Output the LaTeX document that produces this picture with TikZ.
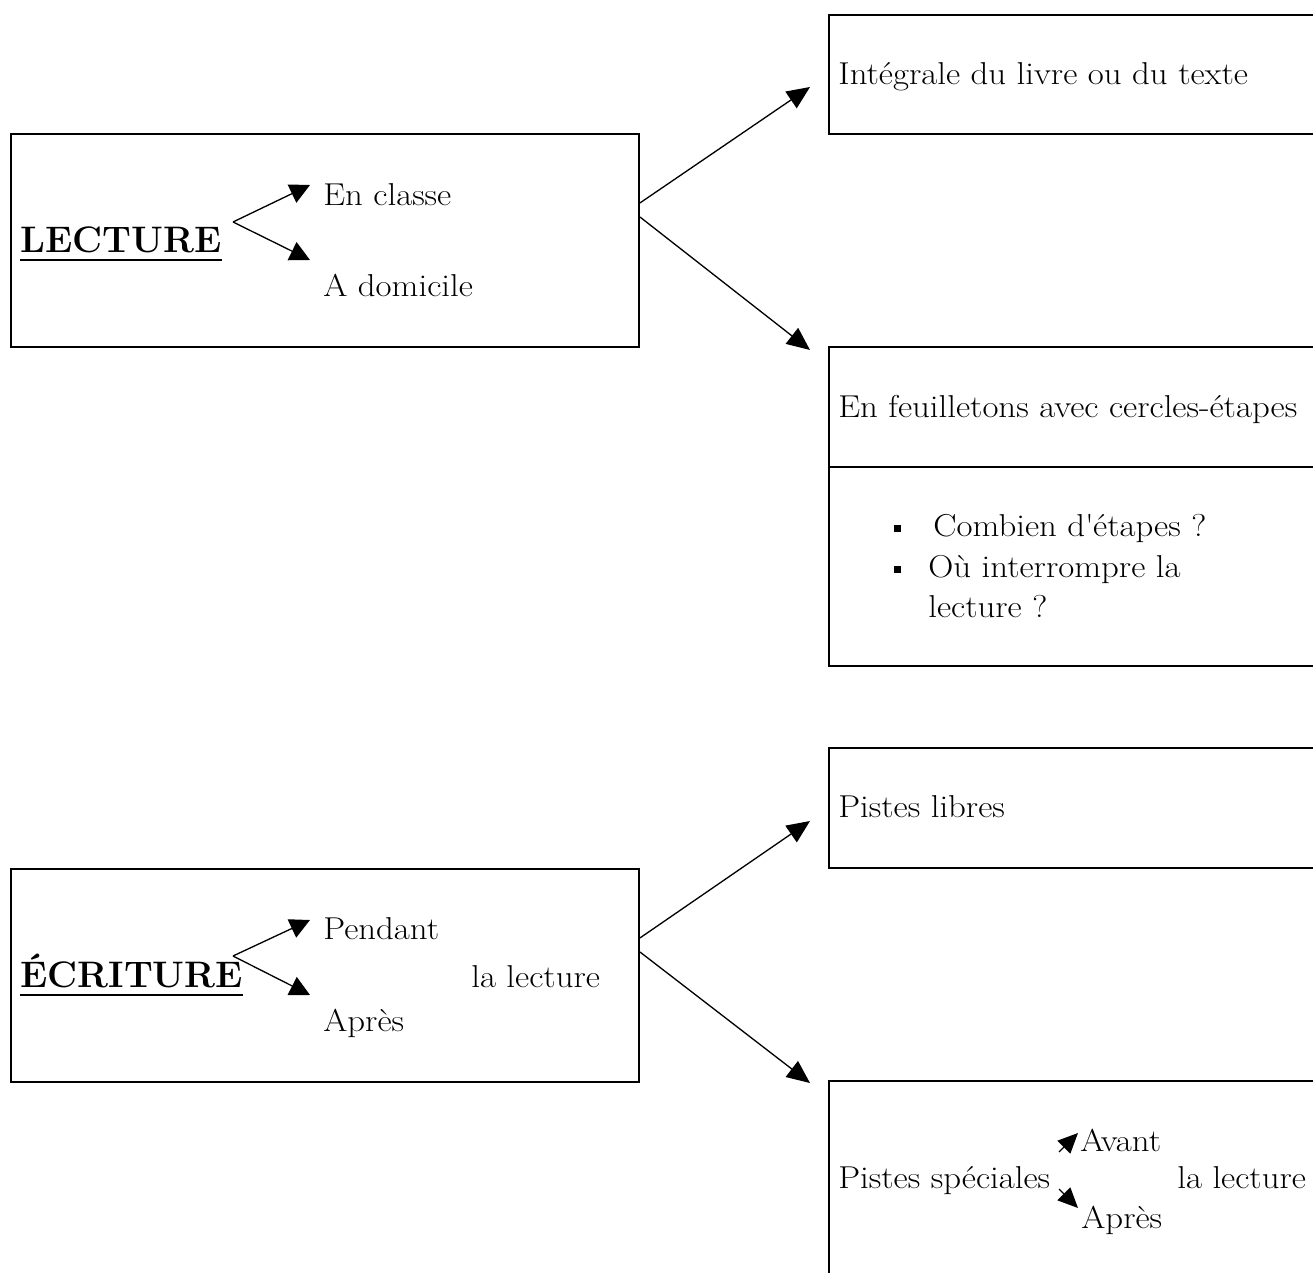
\documentclass[tikz,border=0pt]{standalone}
\usepackage{fontspec}
\newfontfamily\bodyfont{Latin Modern Roman}[FakeStretch=1.1]
\usepackage{tikz}
\usetikzlibrary{
    positioning,    % For relative node placement
    arrows.meta     % For Triangle arrow tips
}

\begin{document}
\begin{tikzpicture}[
    % Styles
    main_box/.style={ % Left boxes (LECTURE, ECRITURE)
        rectangle,
        draw,
        line width=1.1pt,
        anchor=north west,
        minimum width=12.56cm,
        minimum height=4.26cm,
        inner sep=0pt
    },
    side_box/.style={ % Right boxes, cut by the page edge
        rectangle,
        draw,
        line width=1.1pt,
        anchor=north west,
        minimum width=10cm,
        inner sep=0pt
    },
    title_text/.style={ % Bold headings
        font=\fontsize{21}{25}\selectfont\bfseries,
        anchor=base west,
        inner sep=0pt
    },
    body_text/.style={
        font=\bodyfont\fontsize{18}{22}\selectfont,
        anchor=base west,
        inner sep=0pt
    },
    bullet_box/.style={ % Square list bullets
        rectangle, fill, minimum size=0.14cm, inner sep=0pt
    },
    ul_line/.style={line width=1.3pt}, % Underline of the headings
    big_arrow/.style={
        -{Triangle[length=0.46cm,width=0.4cm]}, line width=0.75pt
    },
    fork_arrow/.style={
        -{Triangle[length=0.4cm,width=0.4cm]}, line width=0.75pt
    },
    tiny_arrow/.style={
        -{Triangle[length=0.4cm,width=0.36cm]}, line width=0.75pt
    }
]

% --- Page frame ---
\useasboundingbox (0,0) rectangle (26.26,-25.46);
\clip (0,0) rectangle (26.26,-25.46);

% --- LECTURE block ---
\node[main_box] (lect_box) at (0.20,-2.66) {};
\node[title_text] (lect) at (0.40,-5.04) {LECTURE};
\draw[ul_line] ([yshift=-0.16cm]lect.base west) -- ([yshift=-0.16cm]lect.base east);
\coordinate (lect_fork) at (4.66,-4.44);
\coordinate (lect_up) at (6.20,-3.70);
\coordinate (lect_down) at (6.20,-5.20);
\node[body_text] (classe) at (6.46,-4.10) {En classe};
\node[body_text] (domicile) at (6.46,-5.92) {A domicile};
\draw[fork_arrow] (lect_fork) -- (lect_up);
\draw[fork_arrow] (lect_fork) -- (lect_down);

% --- Reading modes (right) ---
\node[side_box, minimum height=2.38cm] (integ_box) at (16.56,-0.28) {};
\node[body_text] (integ) at (16.76,-1.70) {Intégrale du livre ou du texte};
\node[side_box, minimum height=2.40cm] (feuil_box) at (16.56,-6.92) {};
\node[body_text] (feuil) at (16.76,-8.34) {En feuilletons avec cercles-étapes};
\node[side_box, minimum height=3.98cm] (list_box) at (16.56,-9.32) {};
\node[bullet_box] (b1) at (17.94,-10.56) {};
\node[bullet_box] (b2) at (17.94,-11.38) {};
\node[body_text] (combien) at (18.66,-10.72) {Combien d\textquotesingle étapes ?};
\node[body_text] (ou) at (18.56,-11.54) {Où interrompre la};
\node[body_text] (lecture_q) at (18.56,-12.34) {lecture ?};
% Arrows from LECTURE box
\coordinate (integ_in) at (16.20,-1.74);
\coordinate (feuil_in) at (16.20,-7.00);
\draw[big_arrow] ([yshift=0.75cm]lect_box.east) -- (integ_in);
\draw[big_arrow] ([yshift=0.47cm]lect_box.east) -- (feuil_in);

% --- ECRITURE block ---
\node[main_box] (ecri_box) at (0.20,-17.36) {};
\node[title_text] (ecri) at (0.40,-19.74) {ÉCRITURE};
\draw[ul_line] ([yshift=-0.16cm]ecri.base west) -- ([yshift=-0.16cm]ecri.base east);
\coordinate (ecri_fork) at (4.66,-19.12);
\coordinate (ecri_up) at (6.20,-18.40);
\coordinate (ecri_down) at (6.20,-19.90);
\node[body_text] (pendant) at (6.46,-18.78) {Pendant};
\node[body_text] (la_lect1) at (9.42,-19.74) {la lecture};
\node[body_text] (apres1) at (6.46,-20.62) {Après};
\draw[fork_arrow] (ecri_fork) -- (ecri_up);
\draw[fork_arrow] (ecri_fork) -- (ecri_down);

% --- Writing tracks (right) ---
\node[side_box, minimum height=2.40cm] (libres_box) at (16.56,-14.94) {};
\node[body_text] (libres) at (16.76,-16.34) {Pistes libres};
\node[side_box, minimum height=5cm] (spec_box) at (16.56,-21.60) {};
\node[body_text] (spec) at (16.76,-23.76) {Pistes spéciales};
\node[body_text] (avant) at (21.60,-23.02) {Avant};
\node[body_text] (apres2) at (21.62,-24.56) {Après};
\node[body_text] (la_lect2) at (23.54,-23.76) {la lecture};
\coordinate (avant_tail) at (21.18,-23.04);
\coordinate (avant_tip) at (21.56,-22.66);
\coordinate (apres_tail) at (21.18,-23.78);
\coordinate (apres_tip) at (21.56,-24.16);
\draw[tiny_arrow] (avant_tail) -- (avant_tip);
\draw[tiny_arrow] (apres_tail) -- (apres_tip);
% Arrows from ECRITURE box
\coordinate (libres_in) at (16.20,-16.42);
\coordinate (spec_in) at (16.20,-21.66);
\draw[big_arrow] ([yshift=0.75cm]ecri_box.east) -- (libres_in);
\draw[big_arrow] ([yshift=0.47cm]ecri_box.east) -- (spec_in);

\end{tikzpicture}
\end{document}
